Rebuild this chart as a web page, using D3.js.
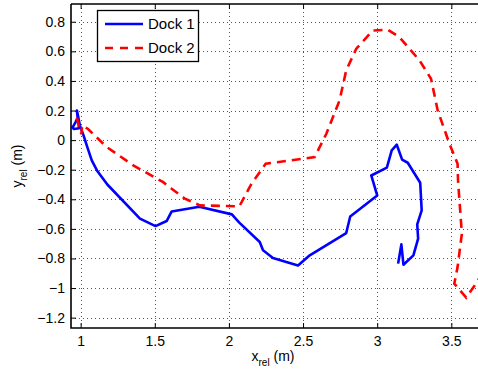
<!DOCTYPE html>
<html><head><meta charset="utf-8">
<script src="https://cdn.jsdelivr.net/npm/d3@7"></script>
<style>
body{margin:0;background:#fff;}
text{font-family:"Liberation Sans",Arial,Helvetica,sans-serif;fill:#000;}
</style></head>
<body>
<svg id="c" width="478" height="370"></svg>
<script>
const dock1X = [0.975,0.98,0.965,0.945,0.955,0.99,0.985,0.975,0.995,1.02,1.045,1.075,1.11,1.18,1.4,1.505,1.58,1.614,1.8,2.02,2.07,2.208,2.23,2.297,2.466,2.545,2.791,2.818,3.0,2.96,3.065,3.098,3.132,3.168,3.206,3.29,3.30,3.27,3.276,3.244,3.177,3.163,3.141];
const dock1Y = [0.2,0.15,0.12,0.085,0.075,0.08,0.13,0.2,0.1,0.03,-0.047,-0.137,-0.205,-0.3,-0.531,-0.581,-0.547,-0.482,-0.45,-0.502,-0.558,-0.689,-0.745,-0.797,-0.847,-0.779,-0.628,-0.516,-0.374,-0.239,-0.186,-0.07,-0.031,-0.132,-0.153,-0.288,-0.475,-0.57,-0.666,-0.779,-0.842,-0.705,-0.835];
const dock2X = [0.975,0.99,1.005,1.01,1.05,1.176,1.355,1.557,1.614,1.703,1.804,2.07,2.152,2.248,2.578,2.657,2.746,2.791,2.859,2.97,3.071,3.15,3.285,3.363,3.408,3.487,3.542,3.545,3.553,3.571,3.542,3.52,3.6,3.666,3.69];
const dock2Y = [0.15,0.09,0.04,0.1,0.075,-0.047,-0.171,-0.284,-0.329,-0.396,-0.441,-0.448,-0.295,-0.16,-0.115,0.043,0.268,0.471,0.618,0.741,0.746,0.696,0.539,0.415,0.2,-0.024,-0.16,-0.272,-0.385,-0.632,-0.858,-0.97,-1.065,-0.97,-0.93];
const xTicks = [1,1.5,2,2.5,3,3.5];
const xTickLabels = ["1","1.5","2","2.5","3","3.5"];
const yTicks = [-1.2,-1,-0.8,-0.6,-0.4,-0.2,0,0.2,0.4,0.6,0.8];
const yTickLabels = ["\u22121.2","\u22121","\u22120.8","\u22120.6","\u22120.4","\u22120.2","0","0.2","0.4","0.6","0.8"];
const seriesNames = ["Dock 1","Dock 2"];
const seriesColors = ["#0000ff","#ff0000"];

const L=71,R=481,T=4,B=328;
const x=d3.scaleLinear().domain([0.935,3.7]).range([L,R]);
const y=d3.scaleLinear().domain([-1.27,0.92]).range([B,T]);
const svg=d3.select("#c");

svg.append("defs").append("clipPath").attr("id","clip").append("rect")
  .attr("x",L).attr("y",T).attr("width",R-L).attr("height",B-T);

// grid
const grid=svg.append("g");
grid.selectAll(".gx").data(xTicks).enter().append("line")
  .attr("x1",d=>Math.round(x(d))+0.5).attr("x2",d=>Math.round(x(d))+0.5)
  .attr("y1",T).attr("y2",B).attr("stroke","#555").attr("stroke-width",1).attr("stroke-dasharray","1,3");
grid.selectAll(".gy").data(yTicks).enter().append("line")
  .attr("y1",d=>Math.round(y(d))+0.5).attr("y2",d=>Math.round(y(d))+0.5)
  .attr("x1",L).attr("x2",R).attr("stroke","#555").attr("stroke-width",1).attr("stroke-dasharray","1,3");

// axes (inside ticks)
const xa=d3.axisBottom(x).tickValues(xTicks).tickFormat((d,i)=>xTickLabels[i]).tickSizeInner(-5).tickSizeOuter(0).tickPadding(8);
const gx=svg.append("g").attr("transform",`translate(0,${B})`).call(xa);
gx.select(".domain").remove();
gx.selectAll("text").style("font-size","14px");
const xt=d3.axisTop(x).tickValues(xTicks).tickFormat("").tickSizeInner(-5).tickSizeOuter(0);
const gxt=svg.append("g").attr("transform",`translate(0,${T})`).call(xt);
gxt.select(".domain").remove();
const ya=d3.axisLeft(y).tickValues(yTicks).tickFormat((d,i)=>yTickLabels[i]).tickSizeInner(-5).tickSizeOuter(0).tickPadding(6);
const gy=svg.append("g").attr("transform",`translate(${L},0)`).call(ya);
gy.select(".domain").remove();
gy.selectAll("text").style("font-size","14px");
svg.selectAll(".tick line").attr("stroke","#000").attr("stroke-width",1);

// lines
const pts1=dock1X.map((d,i)=>[d,dock1Y[i]]);
const pts2=dock2X.map((d,i)=>[d,dock2Y[i]]);
const line=d3.line().x(d=>x(d[0])).y(d=>y(d[1]));
const pg=svg.append("g").attr("clip-path","url(#clip)");
pg.append("path").datum(pts1).attr("d",line).attr("fill","none").attr("stroke",seriesColors[0]).attr("stroke-width",2.6).attr("stroke-linejoin","round");
pg.append("path").datum(pts2).attr("d",line).attr("fill","none").attr("stroke",seriesColors[1]).attr("stroke-width",2.6).attr("stroke-dasharray","9,6");

// frame
svg.append("path").attr("d",`M${L},${T}H${R+5}M${L},${T}V${B}H${R+5}`).attr("fill","none").attr("stroke","#000").attr("stroke-width",1.6);

// legend
const lg=svg.append("g");
lg.append("rect").attr("x",97.5).attr("y",10.5).attr("width",101).attr("height",51).attr("fill","#fff").attr("stroke","#000").attr("stroke-width",1.3);
seriesNames.forEach((n,i)=>{
  const yy=24+i*24;
  lg.append("line").attr("x1",105).attr("x2",143).attr("y1",yy).attr("y2",yy)
    .attr("stroke",seriesColors[i]).attr("stroke-width",2.6).attr("stroke-dasharray",i===1?"8,7":null);
  lg.append("text").attr("x",148).attr("y",yy+5).style("font-size","15px").text(n);
});

// axis labels
const xl=svg.append("text").attr("x",273).attr("y",361).attr("text-anchor","middle").style("font-size","14px");
xl.append("tspan").text("x");
xl.append("tspan").attr("dy",5).style("font-size","10px").text("rel");
xl.append("tspan").attr("dy",-5).text(" (m)");
const yl=svg.append("text").attr("transform","translate(22,166) rotate(-90)").attr("text-anchor","middle").style("font-size","14px");
yl.append("tspan").text("y");
yl.append("tspan").attr("dy",5).style("font-size","10px").text("rel");
yl.append("tspan").attr("dy",-5).text(" (m)");
</script>
</body></html>
